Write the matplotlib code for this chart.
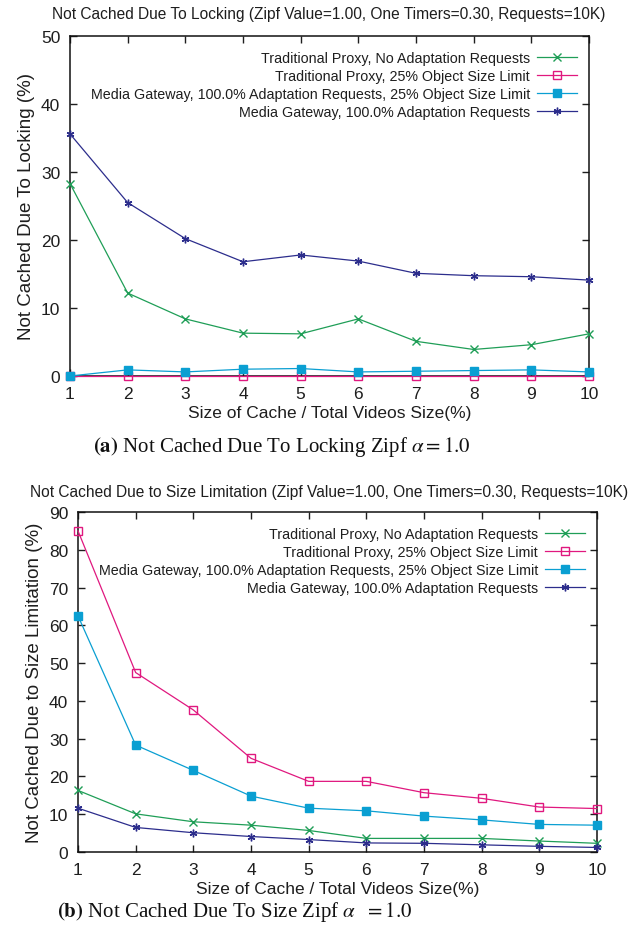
import numpy as np
import matplotlib
matplotlib.use("Agg")
import matplotlib.pyplot as plt

plt.rcParams['font.family'] = ['Liberation Sans', 'DejaVu Sans']
plt.rcParams['mathtext.fontset'] = 'stix'

cache_size = [1, 2, 3, 4, 5, 6, 7, 8, 9, 10]

series_names = [
    "Traditional Proxy, No Adaptation Requests",
    "Traditional Proxy, 25% Object Size Limit",
    "Media Gateway, 100.0% Adaptation Requests, 25% Object Size Limit",
    "Media Gateway, 100.0% Adaptation Requests",
]

# (a) not cached due to locking
lock_trad = [28.3, 12.2, 8.4, 6.3, 6.2, 8.4, 5.1, 3.9, 4.6, 6.2]
lock_trad_limit = [0, 0, 0, 0, 0, 0, 0, 0, 0, 0]
lock_gw_limit = [0.0, 0.9, 0.6, 1.0, 1.1, 0.6, 0.7, 0.8, 0.9, 0.6]
lock_gw = [35.6, 25.5, 20.2, 16.8, 17.8, 16.9, 15.1, 14.75, 14.6, 14.1]

# (b) not cached due to size limitation
size_trad = [16.3, 10.1, 8.0, 7.1, 5.7, 3.6, 3.6, 3.6, 2.9, 2.3]
size_trad_limit = [85.0, 47.5, 37.6, 24.8, 18.7, 18.7, 15.7, 14.2, 11.9, 11.5]
size_gw_limit = [62.5, 28.3, 21.6, 14.8, 11.6, 10.9, 9.5, 8.5, 7.3, 7.1]
size_gw = [11.6, 6.5, 5.1, 4.1, 3.3, 2.4, 2.3, 1.9, 1.5, 1.2]

colors = ["#1f9e57", "#e0187f", "#0a9fd2", "#2c2d8c"]
markers = ["x", "s", "s", (6, 2, 0)]
fills = [True, False, True, True]

W, H = 633, 929
fig = plt.figure(figsize=(W / 100, H / 100), dpi=100)
txt = "#1e1e1e"


def make_panel(rect, series, ymax, ystep, title, ylabel, title_y):
    ax = fig.add_axes([rect[0] / W, 1 - rect[3] / H, (rect[2] - rect[0]) / W, (rect[3] - rect[1]) / H])
    for vals, name, c, m, f in zip(series, series_names, colors, markers, fills):
        ax.plot(cache_size, vals, color=c, lw=0.9, marker=m, ms=5.5, mew=1.0,
                mfc=c if f else "none", mec=c, label=name, clip_on=False, zorder=3)
    ax.set_xlim(1, 10)
    ax.set_ylim(0, ymax)
    ax.set_xticks(cache_size)
    ax.set_yticks(np.arange(0, ymax + 1, ystep))
    ax.tick_params(direction="in", length=5, width=1, top=True, right=True,
                   labelsize=12.5, colors=txt, pad=7)
    for s in ax.spines.values():
        s.set_linewidth(1.1)
        s.set_color("#111111")
    ax.set_xlabel("Size of Cache / Total Videos Size(%)", fontsize=12.5, color=txt, labelpad=3)
    ax.set_ylabel(ylabel, fontsize=13.5, color=txt, labelpad=4)
    leg = ax.legend(loc="upper right", markerfirst=False, frameon=False, fontsize=10.3,
                    handlelength=2.8, handletextpad=0.5, labelspacing=0.28,
                    borderaxespad=0.0, bbox_to_anchor=(0.988, 0.974))
    for t in leg.get_texts():
        t.set_color(txt)
    fig.text(329 / W, 1 - title_y / H, title, ha="center", va="center", fontsize=11.2, color=txt)
    return ax


make_panel((70, 37, 589, 377), [lock_trad, lock_trad_limit, lock_gw_limit, lock_gw], 50, 10,
           "Not Cached Due To Locking (Zipf Value=1.00, One Timers=0.30, Requests=10K)",
           "Not Cached Due To Locking (%)", 14)
make_panel((78, 513, 597, 853), [size_trad, size_trad_limit, size_gw_limit, size_gw], 90, 10,
           "Not Cached Due to Size Limitation (Zipf Value=1.00, One Timers=0.30, Requests=10K)",
           "Not Cached Due to Size Limitation (%)", 492)

fig.text(93 / W, 1 - 447 / H, r"$\mathbf{(a)}$ Not Cached Due To Locking Zipf $\alpha = 1.0$",
         ha="left", va="center", fontsize=15, family="Liberation Serif", color="#111111")
fig.text(57 / W, 1 - 912 / H, r"$\mathbf{(b)}$ Not Cached Due To Size Zipf $\alpha\ \ = 1.0$",
         ha="left", va="center", fontsize=15, family="Liberation Serif", color="#111111")

fig.savefig("out.png", dpi=100)
